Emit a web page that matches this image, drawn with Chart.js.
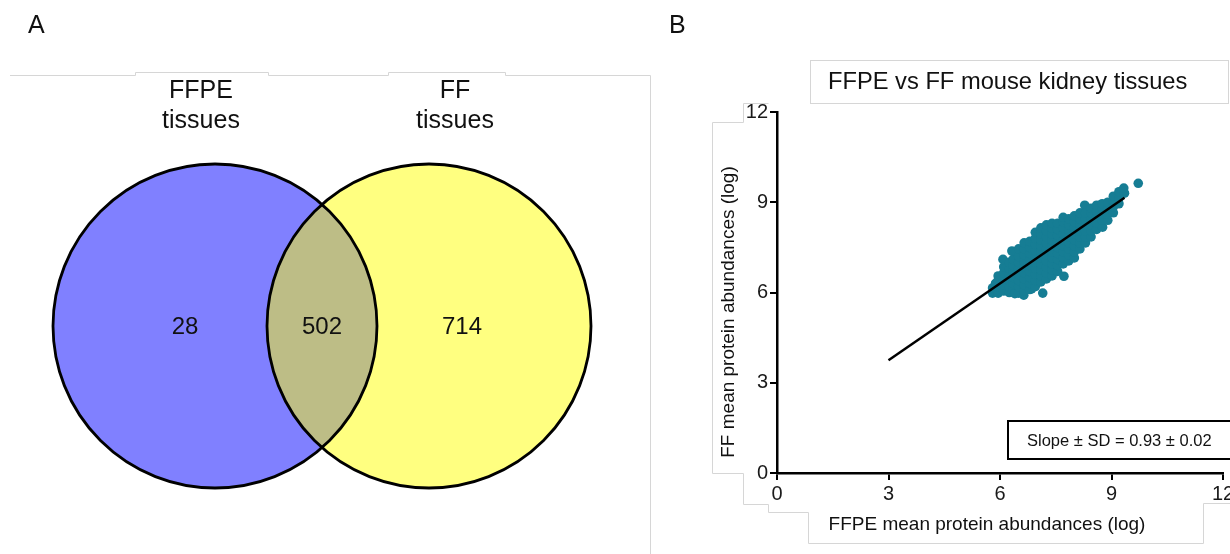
<!DOCTYPE html>
<html>
<head>
<meta charset="utf-8">
<script src="https://cdn.jsdelivr.net/npm/chart.js@4/dist/chart.umd.min.js"></script>
<style>
  html, body { margin: 0; padding: 0; background: #fff; overflow: hidden; width: 1230px; height: 554px; }
  canvas { position: absolute; top: 0; }
  #venn { left: 0; }
  #scatter { left: 660px; }
</style>
</head>
<body>
<canvas id="venn" width="660" height="554"></canvas>
<canvas id="scatter" width="600" height="554"></canvas>
<script>
// ---- panel A data: Venn of identified proteins
var setNames = [['FFPE', 'tissues'], ['FF', 'tissues']];
var regionCounts = [28, 502, 714];   // FFPE only, shared, FF only

// ---- panel B data: mean protein abundances (log), FFPE vs FF
var tickValues = [0, 3, 6, 9, 12];
var fitX = [3.0, 9.35];
var fitY = [3.75, 9.15];
var slopeText = 'Slope \u00b1 SD = 0.93 \u00b1 0.02';
var cloud = [
  [5.80,5.98],[5.80,6.15],[5.88,6.3],
  [5.95,5.98],[5.95,6.2],[5.95,6.4],[5.95,6.55],
  [6.10,6.05],[6.10,6.25],[6.10,6.45],[6.10,6.65],[6.10,6.85],[6.08,7.1],
  [6.25,6.0],[6.25,6.2],[6.25,6.4],[6.25,6.6],[6.25,6.8],[6.25,7.0],
  [6.35,6.1],[6.35,6.3],[6.35,6.5],[6.35,6.7],[6.35,6.9],[6.35,7.1],[6.32,7.38],[6.40,5.96],
  [6.50,5.98],[6.50,6.2],[6.50,6.4],[6.50,6.6],[6.50,6.8],[6.50,7.0],[6.50,7.2],[6.50,7.45],
  [6.64,5.91],[6.65,6.05],[6.65,6.25],[6.65,6.45],[6.65,6.65],[6.65,6.85],[6.65,7.05],[6.65,7.25],[6.65,7.45],[6.65,7.65],
  [6.85,6.12],[6.80,6.1],[6.80,6.3],[6.80,6.5],[6.80,6.7],[6.80,6.9],[6.80,7.1],[6.80,7.3],[6.80,7.5],[6.80,7.7],
  [6.95,6.2],[6.95,6.4],[6.95,6.6],[6.95,6.8],[6.95,7.0],[6.95,7.2],[6.95,7.4],[6.95,7.6],[6.95,7.8],[6.95,8.0],
  [7.15,5.98],[7.10,6.35],[7.10,6.55],[7.10,6.75],[7.10,6.95],[7.10,7.15],[7.10,7.35],[7.10,7.55],[7.10,7.75],[7.10,7.95],[7.10,8.15],
  [7.25,6.45],[7.25,6.65],[7.25,6.85],[7.25,7.05],[7.25,7.25],[7.25,7.45],[7.25,7.65],[7.25,7.85],[7.25,8.05],[7.25,8.25],
  [7.40,6.55],[7.40,6.75],[7.40,6.95],[7.40,7.15],[7.40,7.35],[7.40,7.55],[7.40,7.75],[7.40,7.95],[7.40,8.15],[7.40,8.3],
  [7.55,6.7],[7.55,6.9],[7.55,7.1],[7.55,7.3],[7.55,7.5],[7.55,7.7],[7.55,7.9],[7.55,8.1],[7.55,8.3],
  [7.72,6.54],[7.70,6.95],[7.70,7.15],[7.70,7.35],[7.70,7.55],[7.70,7.75],[7.70,7.95],[7.70,8.15],[7.70,8.35],[7.70,8.5],
  [7.85,7.05],[7.85,7.25],[7.85,7.45],[7.85,7.65],[7.85,7.85],[7.85,8.05],[7.85,8.25],[7.85,8.45],
  [8.00,7.15],[8.00,7.35],[8.00,7.55],[8.00,7.75],[8.00,7.95],[8.00,8.15],[8.00,8.35],[8.00,8.55],
  [8.15,7.45],[8.15,7.65],[8.15,7.85],[8.15,8.05],[8.15,8.25],[8.15,8.45],[8.15,8.65],
  [8.28,8.9],[8.30,7.65],[8.30,7.85],[8.30,8.05],[8.30,8.25],[8.30,8.45],[8.30,8.65],
  [8.45,7.85],[8.45,8.05],[8.45,8.25],[8.45,8.45],[8.45,8.65],[8.45,8.8],
  [8.60,8.1],[8.60,8.3],[8.60,8.5],[8.60,8.7],[8.60,8.9],
  [8.76,8.17],[8.75,8.4],[8.75,8.6],[8.75,8.8],[8.75,8.95],
  [8.90,8.4],[8.90,8.6],[8.90,8.8],[8.90,9.0],
  [9.05,8.65],[9.05,8.85],[9.05,9.05],[9.05,9.2],
  [9.20,8.95],[9.20,9.15],[9.20,9.35],
  [9.35,9.3],[9.33,9.47],
  [9.72,9.63]
];

// ---- layout (panel A uses its own 660 x 554 units)
var FONT = '"Liberation Sans", Arial, sans-serif';
var vennCentres = [{x: 215, y: 326}, {x: 429, y: 326}];
var vennRadius = 162;
var countAnchorX = [185, 322, 462];
var countAnchorY = 327;
var setLabelX = [201, 455];
var setColors = ['#8080ff', '#ffff80'];
var overlapColor = '#bdbd86';
var faint = '#d6d6d6';

function poly(ctx, pts) {
  ctx.beginPath();
  ctx.moveTo(pts[0][0], pts[0][1]);
  for (var i = 1; i < pts.length; i++) ctx.lineTo(pts[i][0], pts[i][1]);
  ctx.stroke();
}

var vennDecor = {
  id: 'vennDecor',
  beforeDraw: function (chart) {
    var ctx = chart.ctx;
    ctx.save();
    ctx.strokeStyle = faint;
    ctx.lineWidth = 1;
    poly(ctx, [[10,75.5],[135.5,75.5],[135.5,72.5],[268.5,72.5],[268.5,75.5],[388.5,75.5],
               [388.5,72.5],[505.5,72.5],[505.5,75.5],[650.5,75.5],[650.5,554]]);
    ctx.fillStyle = '#111';
    ctx.font = '25px ' + FONT;
    ctx.textBaseline = 'alphabetic';
    ctx.fillText('A', 28, 33);
    ctx.restore();
  },
  afterDatasetsDraw: function (chart) {
    var ctx = chart.ctx;
    var pts = chart.getDatasetMeta(0).data;
    var r = pts[0].options.radius;
    ctx.save();
    ctx.beginPath();
    ctx.arc(pts[0].x, pts[0].y, r, 0, Math.PI * 2);
    ctx.clip();
    ctx.beginPath();
    ctx.arc(pts[1].x, pts[1].y, r, 0, Math.PI * 2);
    ctx.fillStyle = overlapColor;
    ctx.fill();
    ctx.restore();

    ctx.save();
    ctx.strokeStyle = '#000';
    ctx.lineWidth = 2.8;
    pts.forEach(function (p) {
      ctx.beginPath();
      ctx.arc(p.x, p.y, r, 0, Math.PI * 2);
      ctx.stroke();
    });
    var xs = chart.scales.x, ys = chart.scales.y;
    ctx.fillStyle = '#111';
    ctx.textAlign = 'center';
    ctx.textBaseline = 'middle';
    ctx.font = '24px ' + FONT;
    regionCounts.forEach(function (c, i) {
      ctx.fillText(String(c), xs.getPixelForValue(countAnchorX[i]), ys.getPixelForValue(countAnchorY));
    });
    ctx.font = '25px ' + FONT;
    setNames.forEach(function (lines, i) {
      lines.forEach(function (t, j) {
        ctx.fillText(t, xs.getPixelForValue(setLabelX[i]), ys.getPixelForValue(91 + j * 30));
      });
    });
    ctx.restore();
  }
};

new Chart(document.getElementById('venn'), {
  type: 'scatter',
  data: {
    datasets: [{
      data: vennCentres,
      backgroundColor: setColors,
      borderWidth: 0,
      pointRadius: vennRadius,
      pointHoverRadius: vennRadius,
      clip: false
    }]
  },
  options: {
    responsive: false,
    animation: false,
    events: [],
    layout: { padding: 0, autoPadding: false },
    plugins: { legend: { display: false }, tooltip: { enabled: false } },
    scales: {
      x: { type: 'linear', min: 0, max: 660, display: false },
      y: { type: 'linear', min: 0, max: 554, reverse: true, display: false }
    }
  },
  plugins: [vennDecor]
});

// ---- panel B (canvas starts at page x = 660)
var scatterDecor = {
  id: 'scatterDecor',
  beforeDraw: function (chart) {
    var ctx = chart.ctx;
    ctx.save();
    ctx.strokeStyle = faint;
    ctx.lineWidth = 1;
    ctx.strokeRect(150.5, 60.5, 418, 43);
    poly(ctx, [[108.5,103.5],[83.5,103.5],[83.5,122.5],[52.5,122.5],[52.5,473.5],[83.5,473.5],[83.5,504.5],
               [108.5,504.5],[108.5,512.5],[148.5,512.5],[148.5,543.5],[543.5,543.5],[543.5,503.5],[600,503.5]]);
    ctx.fillStyle = '#111';
    ctx.font = '25px ' + FONT;
    ctx.fillText('B', 9, 33);
    ctx.restore();
  },
  afterDraw: function (chart) {
    var ctx = chart.ctx;
    ctx.save();
    ctx.fillStyle = '#111';
    ctx.textBaseline = 'middle';
    ctx.font = '23.7px ' + FONT;
    ctx.textAlign = 'left';
    ctx.fillText('FFPE vs FF mouse kidney tissues', 168, 82);

    ctx.font = '19px ' + FONT;
    ctx.textAlign = 'center';
    ctx.fillText('FFPE mean protein abundances (log)', 327, 525);
    ctx.save();
    ctx.translate(69, 312);
    ctx.rotate(-Math.PI / 2);
    ctx.fillText('FF mean protein abundances (log)', 0, 0);
    ctx.restore();

    ctx.fillStyle = '#fff';
    ctx.fillRect(348, 421, 250, 38);
    ctx.strokeStyle = '#000';
    ctx.lineWidth = 2;
    ctx.strokeRect(348, 421, 250, 38);
    ctx.fillStyle = '#111';
    ctx.textAlign = 'left';
    ctx.font = '16.5px ' + FONT;
    ctx.fillText(slopeText, 367, 441);
    ctx.restore();
  }
};

function axisOpts(extra) {
  var o = {
    type: 'linear',
    min: 0,
    max: 12,
    afterBuildTicks: function (s) { s.ticks = tickValues.map(function (v) { return { value: v }; }); },
    ticks: { font: { family: FONT, size: 20 }, color: '#1a1a1a', padding: 2, maxRotation: 0 },
    grid: { drawOnChartArea: false, drawTicks: true, tickLength: 7, color: '#000', lineWidth: 2 },
    border: { display: true, color: '#000', width: 2.5 }
  };
  for (var k in extra) o[k] = extra[k];
  return o;
}

new Chart(document.getElementById('scatter'), {
  type: 'scatter',
  data: {
    datasets: [
      {
        label: 'Linear fit',
        data: fitX.map(function (x, i) { return { x: x, y: fitY[i] }; }),
        showLine: true,
        borderColor: '#000',
        borderWidth: 2.5,
        pointRadius: 0,
        order: 0
      },
      {
        label: 'Proteins',
        data: cloud.map(function (p) { return { x: p[0], y: p[1] }; }),
        backgroundColor: '#167d94',
        borderWidth: 0,
        pointRadius: 4.8,
        order: 1
      }
    ]
  },
  options: {
    responsive: false,
    animation: false,
    events: [],
    layout: { padding: { top: 112, right: 37, bottom: 0, left: 0 }, autoPadding: false },
    plugins: { legend: { display: false }, tooltip: { enabled: false } },
    scales: {
      x: axisOpts({ afterFit: function (s) { s.height = 81; } }),
      y: axisOpts({ afterFit: function (s) { s.width = 117; } })
    }
  },
  plugins: [scatterDecor]
});
</script>
</body>
</html>
